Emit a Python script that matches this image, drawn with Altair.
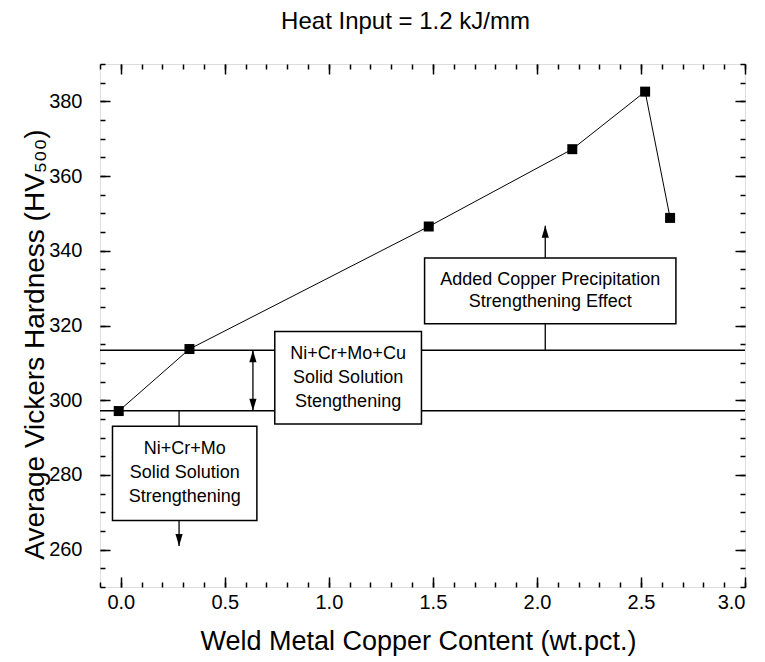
import altair as alt
import pandas as pd

# Weld metal copper content (wt.pct.) and average Vickers hardness (HV500)
copper = [-0.01, 0.33, 1.48, 2.17, 2.52, 2.64]
hardness = [297.1, 313.7, 346.5, 367.2, 382.6, 348.8]

# Solid solution strengthening levels (horizontal reference lines)
level_names = ["Ni+Cr+Mo", "Ni+Cr+Mo+Cu"]
level_values = [297.2, 313.4]

# Annotation boxes (data coordinates)
box_text = [
    "Ni+Cr+Mo\nSolid Solution\nStrengthening",
    "Ni+Cr+Mo+Cu\nSolid Solution\nStengthening",
    "Added Copper Precipitation\nStrengthening Effect",
]
box_x1 = [-0.04, 0.74, 1.46]
box_x2 = [0.654, 1.445, 2.668]
box_y1 = [267.8, 293.6, 320.5]
box_y2 = [293.0, 318.4, 338.1]

# Leader lines joining boxes, levels and arrows
conn_x = [0.28, 0.28, 0.635, 2.04, 2.04]
conn_y1 = [293.0, 267.8, 297.2, 313.4, 338.1]
conn_y2 = [297.2, 261.0, 313.4, 320.5, 346.7]

# Arrow heads (tip positions)
head_x = [0.28, 0.635, 0.635, 2.04]
head_y = [261.0, 297.2, 313.4, 346.7]
head_dir = ["down", "down", "up", "up"]

# Axis ticks
x_major = [0.0, 0.5, 1.0, 1.5, 2.0, 2.5, 3.0]
x_minor = [-0.1, 0.0, 0.1, 0.2, 0.3, 0.4, 0.5, 0.6, 0.7, 0.8, 0.9, 1.0,
           1.1, 1.2, 1.3, 1.4, 1.5, 1.6, 1.7, 1.8, 1.9, 2.0, 2.1, 2.2,
           2.3, 2.4, 2.5, 2.6, 2.7, 2.8, 2.9, 3.0]
y_major = [260, 280, 300, 320, 340, 360, 380]
y_minor = [250, 255, 260, 265, 270, 275, 280, 285, 290, 295, 300, 305,
           310, 315, 320, 325, 330, 335, 340, 345, 350, 355, 360, 365,
           370, 375, 380, 385, 390]

FONT = "Liberation Sans"
X_SCALE = alt.Scale(domain=[-0.1, 3.0], nice=False, zero=False)
Y_SCALE = alt.Scale(domain=[250, 390], nice=False, zero=False)

pts = pd.DataFrame({"copper": copper, "hardness": hardness})
levels = pd.DataFrame({"name": level_names, "value": level_values})
boxes = pd.DataFrame({"label": box_text, "x1": box_x1, "x2": box_x2,
                      "y1": box_y1, "y2": box_y2})
boxes["cx"] = (boxes["x1"] + boxes["x2"]) / 2
boxes["cy"] = (boxes["y1"] + boxes["y2"]) / 2
conns = pd.DataFrame({"x": conn_x, "y1": conn_y1, "y2": conn_y2})
heads = pd.DataFrame({"x": head_x, "y": head_y, "dir": head_dir})

ARROW_UP = "M0,0L-0.3,1L0.3,1Z"
ARROW_DOWN = "M0,0L-0.3,-1L0.3,-1Z"


def inward(size):
    return {"expr": str(-size)}


def tick_axis(orient, values, size, labels=False, title=None, **kw):
    if title is None:
        return alt.Axis(orient=orient, values=values, tickSize=inward(size),
                        labels=labels, grid=False, domain=False, title=None,
                        tickColor="black", tickWidth=1.5, **kw)
    return alt.Axis(orient=orient, values=values, tickSize=inward(size),
                    labels=labels, grid=False, domain=False, title=title,
                    tickColor="black", tickWidth=1.5, **kw)


x_main = tick_axis(
    "bottom", x_major, 10, labels=True, format=".1f",
    labelFont=FONT, labelFontSize=20, labelColor="black", labelPadding=15,
    title="Weld Metal Copper Content (wt.pct.)", titleFont=FONT,
    titleFontSize=27, titleFontWeight="normal", titleColor="black",
    titleX=318, titleY=62, titleBaseline="alphabetic", titleAlign="center")
y_main = tick_axis(
    "left", y_major, 10, labels=True, format="d",
    labelFont=FONT, labelFontSize=20, labelColor="black", labelPadding=28,
    title="Average Vickers Hardness (HV₅₀₀)", titleFont=FONT,
    titleFontSize=28, titleFontWeight="normal", titleColor="black",
    titleX=-57, titleY=280, titleBaseline="alphabetic", titleAlign="center",
    titleAngle=270)

# Reference levels spanning the plot
level_rules = alt.Chart(levels).mark_rule(color="black", strokeWidth=1.5).encode(
    y=alt.Y("value:Q", scale=Y_SCALE, axis=None)
)

# Leader lines and arrow shafts
leaders = alt.Chart(conns).mark_rule(color="black", strokeWidth=1.3).encode(
    x=alt.X("x:Q", scale=X_SCALE, axis=tick_axis("top", x_minor, 5)),
    y=alt.Y("y1:Q", scale=Y_SCALE, axis=tick_axis("right", y_minor, 5)),
    y2="y2:Q",
)

line = alt.Chart(pts).mark_line(color="black", strokeWidth=1).encode(
    x=alt.X("copper:Q", scale=X_SCALE, axis=x_main),
    y=alt.Y("hardness:Q", scale=Y_SCALE, axis=y_main),
)

points = alt.Chart(pts).mark_point(
    shape="square", filled=True, color="black", size=100, opacity=1
).encode(
    x=alt.X("copper:Q", scale=X_SCALE, axis=tick_axis("bottom", x_minor, 5)),
    y=alt.Y("hardness:Q", scale=Y_SCALE, axis=tick_axis("left", y_minor, 5)),
)

rects = alt.Chart(boxes).mark_rect(
    fill="white", stroke="black", strokeWidth=1.5
).encode(
    x=alt.X("x1:Q", scale=X_SCALE, axis=tick_axis("top", x_major, 10)),
    x2="x2:Q",
    y=alt.Y("y1:Q", scale=Y_SCALE, axis=tick_axis("right", y_major, 10)),
    y2="y2:Q",
)

# Multi-line labels: dy shifts the block so it is centred in its box
text_solid = alt.Chart(boxes.iloc[:2]).mark_text(
    font=FONT, fontSize=18, color="black", lineBreak="\n", lineHeight=24,
    align="center", baseline="middle", dy=-24
).encode(
    x=alt.X("cx:Q", scale=X_SCALE, axis=None),
    y=alt.Y("cy:Q", scale=Y_SCALE, axis=None),
    text="label:N",
)

text_precip = alt.Chart(boxes.iloc[2:]).mark_text(
    font=FONT, fontSize=18, color="black", lineBreak="\n", lineHeight=21.5,
    align="center", baseline="middle", dy=-10.75
).encode(
    x=alt.X("cx:Q", scale=X_SCALE, axis=None),
    y=alt.Y("cy:Q", scale=Y_SCALE, axis=None),
    text="label:N",
)

arrow_heads = alt.Chart(heads).mark_point(
    filled=True, color="black", size=576, opacity=1
).encode(
    x=alt.X("x:Q", scale=X_SCALE, axis=None),
    y=alt.Y("y:Q", scale=Y_SCALE, axis=None),
    shape=alt.Shape("dir:N", legend=None,
                    scale=alt.Scale(domain=["up", "down"],
                                    range=[ARROW_UP, ARROW_DOWN])),
)

chart = alt.layer(
    level_rules, leaders, line, points, rects, text_solid, text_precip,
    arrow_heads
).resolve_axis(
    x="independent", y="independent"
).properties(
    width=645,
    height=523,
    autosize=alt.AutoSizeParams(type="none"),
    padding={"left": 100, "top": 64, "right": 20, "bottom": 75},
    title=alt.Title("Heat Input = 1.2 kJ/mm", font=FONT, fontSize=24,
                    fontWeight="normal", color="black", anchor="middle",
                    dx=-17, offset=10, baseline="alphabetic"),
).configure_view(
    stroke="black", strokeWidth=2
).configure(background="white")

chart.save("out.html", embed_options={"renderer": "svg", "actions": False})
